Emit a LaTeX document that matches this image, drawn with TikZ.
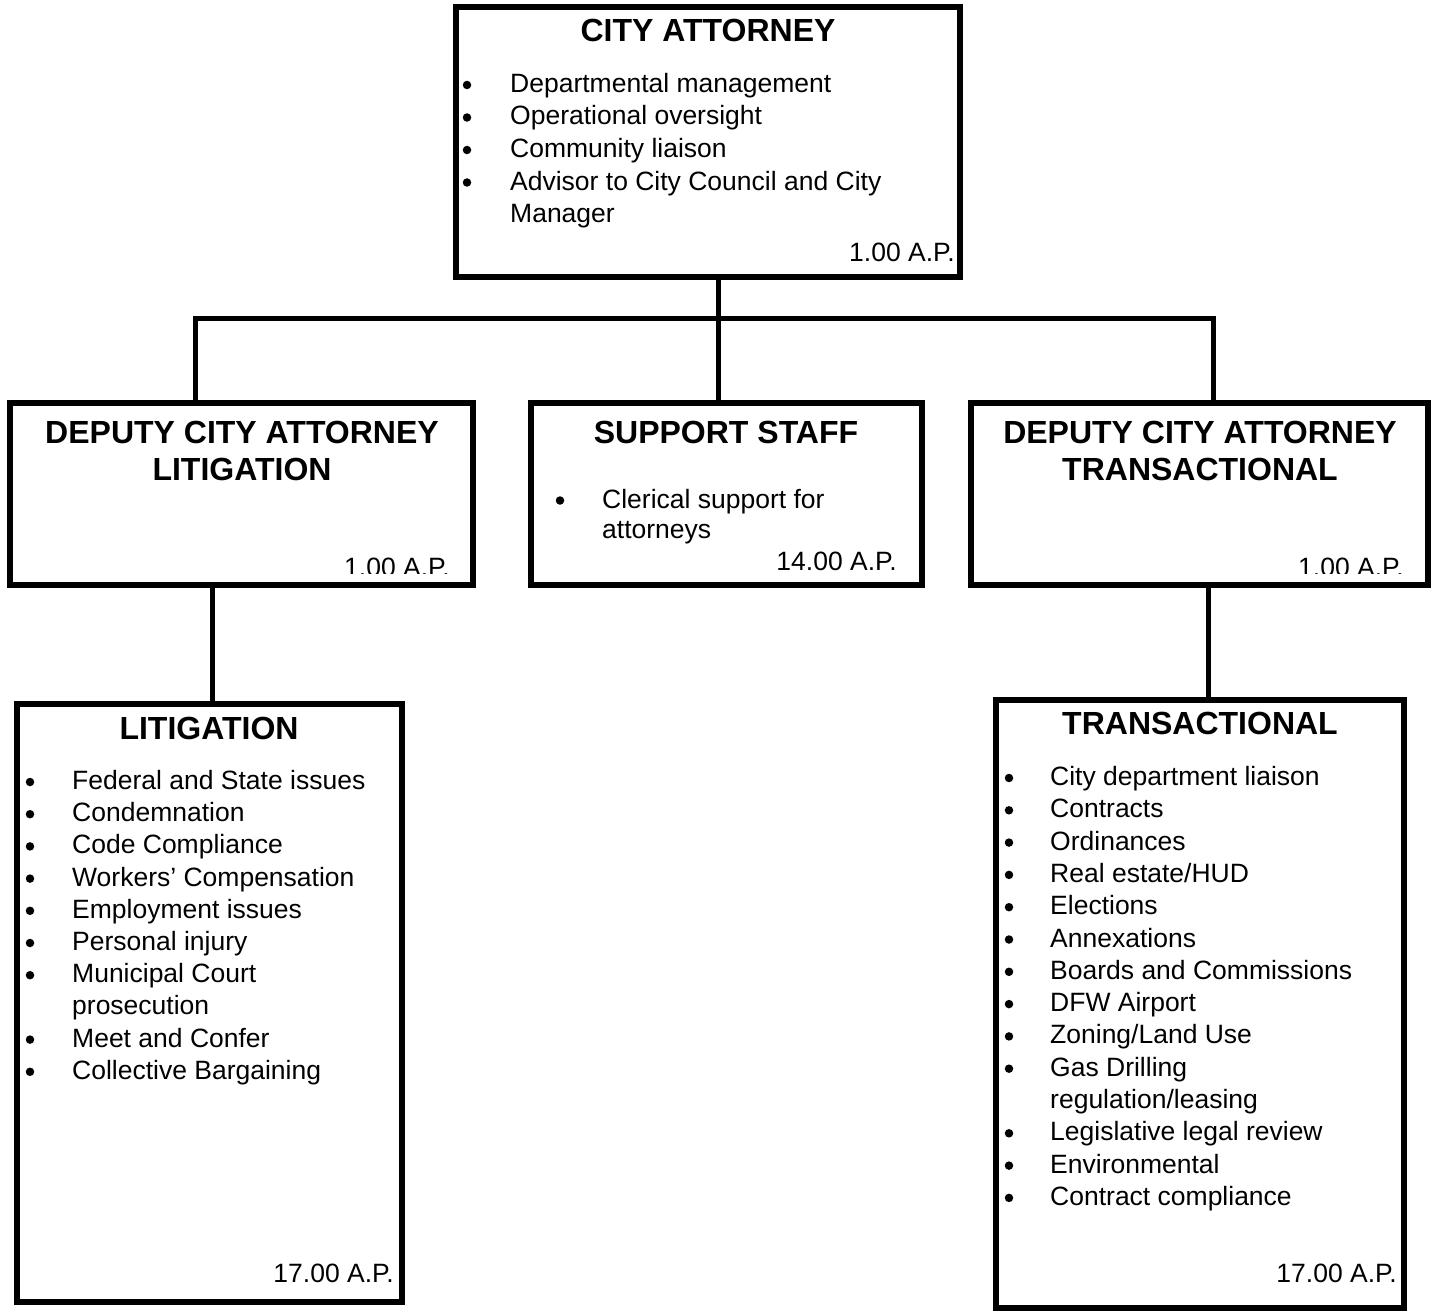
\documentclass[tikz,border=0pt]{standalone}
\usepackage{fontspec}
\setmainfont{Liberation Sans}
\begin{document}
\begin{tikzpicture}[x=1pt,y=-1pt,
  box/.style={draw, line width=5.5pt, inner sep=0pt, rectangle},
  conn/.style={line width=5pt, line join=miter},
  ttl/.style={font=\bfseries\fontsize{32}{36}\selectfont, anchor=base, inner sep=0pt},
  itm/.style={font=\fontsize{26.5}{32}\selectfont, anchor=base west, inner sep=0pt},
  bul/.style={circle, fill=black, inner sep=0pt, minimum size=8.5pt, yshift=7.5pt},
  ap/.style={font=\fontsize{26.5}{32}\selectfont, anchor=base east, inner sep=0pt}]
\useasboundingbox (0,0) rectangle (1436,1311);

% boxes
\node[box, minimum width=504pt, minimum height=270pt] (ca) at (708,142) {};
\node[box, minimum width=463pt, minimum height=182pt] (dl) at (241.5,494) {};
\node[box, minimum width=391pt, minimum height=182pt] (ss) at (726.5,494) {};
\node[box, minimum width=457pt, minimum height=182pt] (dt) at (1199.5,494) {};
\node[box, minimum width=385pt, minimum height=598pt] (lit) at (209.5,1003) {};
\node[box, minimum width=408pt, minimum height=608pt] (tr) at (1200,1004) {};

% connectors
\coordinate (jc) at (718,318);
\coordinate (jl) at (195,318);
\coordinate (jr) at (1213,318);
\coordinate (ll) at (212,0);
\coordinate (lr) at (1208,0);
\draw[conn] (ca.south -| jc) -- (ss.north -| jc);
\draw[conn] (dl.north -| jl) -- (jl) -- (jr) -- (dt.north -| jr);
\draw[conn] (dl.south -| ll) -- (lit.north -| ll);
\draw[conn] (dt.south -| lr) -- (tr.north -| lr);

% City Attorney
\node[ttl] (ca-t) at (708,42) {CITY ATTORNEY};
\node[bul] (ca-b1) at (467,92.5) {};
\node[itm] (ca-i1) at (510,92.5) {Departmental management};
\node[bul] (ca-b2) at (467,125) {};
\node[itm] (ca-i2) at (510,125) {Operational oversight};
\node[bul] (ca-b3) at (467,157.5) {};
\node[itm] (ca-i3) at (510,157.5) {Community liaison};
\node[bul] (ca-b4) at (467,190) {};
\node[itm] (ca-i4) at (510,190) {Advisor to City Council and City};
\node[itm] (ca-i5) at (510,222.5) {Manager};
\node[ap] (ca-ap) at (955,261.5) {1.00 A.P.};

% Deputy Litigation
\node[ttl] (dl-t1) at (242,443) {DEPUTY CITY ATTORNEY};
\node[ttl] (dl-t2) at (242,480) {LITIGATION};
\begin{scope}
\clip (300,540) rectangle (462,573);
\node[ap] (dl-ap) at (450,576) {1.00 A.P.};
\end{scope}

% Support Staff
\node[ttl] (ss-t) at (726,443) {SUPPORT STAFF};
\node[bul] (ss-b1) at (560,508) {};
\node[itm] (ss-i1) at (602,508) {Clerical support for};
\node[itm] (ss-i2) at (602,538) {attorneys};
\node[ap] (ss-ap) at (897,570) {14.00 A.P.};

% Deputy Transactional
\node[ttl] (dt-t1) at (1200,443) {DEPUTY CITY ATTORNEY};
\node[ttl] (dt-t2) at (1200,480) {TRANSACTIONAL};
\begin{scope}
\clip (1250,540) rectangle (1415,573);
\node[ap] (dt-ap) at (1404,576) {1.00 A.P.};
\end{scope}

% Litigation
\node[ttl] (lit-t) at (209,739) {LITIGATION};
\node[bul] (lit-b1) at (30,789.5) {};
\node[itm] (lit-i1) at (72,789.5) {Federal and State issues};
\node[bul] (lit-b2) at (30,821.7) {};
\node[itm] (lit-i2) at (72,821.7) {Condemnation};
\node[bul] (lit-b3) at (30,853.9) {};
\node[itm] (lit-i3) at (72,853.9) {Code Compliance};
\node[bul] (lit-b4) at (30,886.1) {};
\node[itm] (lit-i4) at (72,886.1) {Workers’ Compensation};
\node[bul] (lit-b5) at (30,918.3) {};
\node[itm] (lit-i5) at (72,918.3) {Employment issues};
\node[bul] (lit-b6) at (30,950.5) {};
\node[itm] (lit-i6) at (72,950.5) {Personal injury};
\node[bul] (lit-b7) at (30,982.7) {};
\node[itm] (lit-i7) at (72,982.7) {Municipal Court};
\node[itm] (lit-i8) at (72,1014.9) {prosecution};
\node[bul] (lit-b9) at (30,1047.1) {};
\node[itm] (lit-i9) at (72,1047.1) {Meet and Confer};
\node[bul] (lit-b10) at (30,1079.3) {};
\node[itm] (lit-i10) at (72,1079.3) {Collective Bargaining};
\node[ap] (lit-ap) at (394,1282) {17.00 A.P.};

% Transactional
\node[ttl] (tr-t) at (1200,734) {TRANSACTIONAL};
\node[bul] (tr-b1) at (1009,785.5) {};
\node[itm] (tr-i1) at (1050,785.5) {City department liaison};
\node[bul] (tr-b2) at (1009,817.8) {};
\node[itm] (tr-i2) at (1050,817.8) {Contracts};
\node[bul] (tr-b3) at (1009,850.1) {};
\node[itm] (tr-i3) at (1050,850.1) {Ordinances};
\node[bul] (tr-b4) at (1009,882.4) {};
\node[itm] (tr-i4) at (1050,882.4) {Real estate/HUD};
\node[bul] (tr-b5) at (1009,914.7) {};
\node[itm] (tr-i5) at (1050,914.7) {Elections};
\node[bul] (tr-b6) at (1009,947) {};
\node[itm] (tr-i6) at (1050,947) {Annexations};
\node[bul] (tr-b7) at (1009,979.3) {};
\node[itm] (tr-i7) at (1050,979.3) {Boards and Commissions};
\node[bul] (tr-b8) at (1009,1011.6) {};
\node[itm] (tr-i8) at (1050,1011.6) {DFW Airport};
\node[bul] (tr-b9) at (1009,1043.9) {};
\node[itm] (tr-i9) at (1050,1043.9) {Zoning/Land Use};
\node[bul] (tr-b10) at (1009,1076.2) {};
\node[itm] (tr-i10) at (1050,1076.2) {Gas Drilling};
\node[itm] (tr-i11) at (1050,1108.5) {regulation/leasing};
\node[bul] (tr-b12) at (1009,1140.8) {};
\node[itm] (tr-i12) at (1050,1140.8) {Legislative legal review};
\node[bul] (tr-b13) at (1009,1173.1) {};
\node[itm] (tr-i13) at (1050,1173.1) {Environmental};
\node[bul] (tr-b14) at (1009,1205.4) {};
\node[itm] (tr-i14) at (1050,1205.4) {Contract compliance};
\node[ap] (tr-ap) at (1397,1282) {17.00 A.P.};
\end{tikzpicture}
\end{document}
